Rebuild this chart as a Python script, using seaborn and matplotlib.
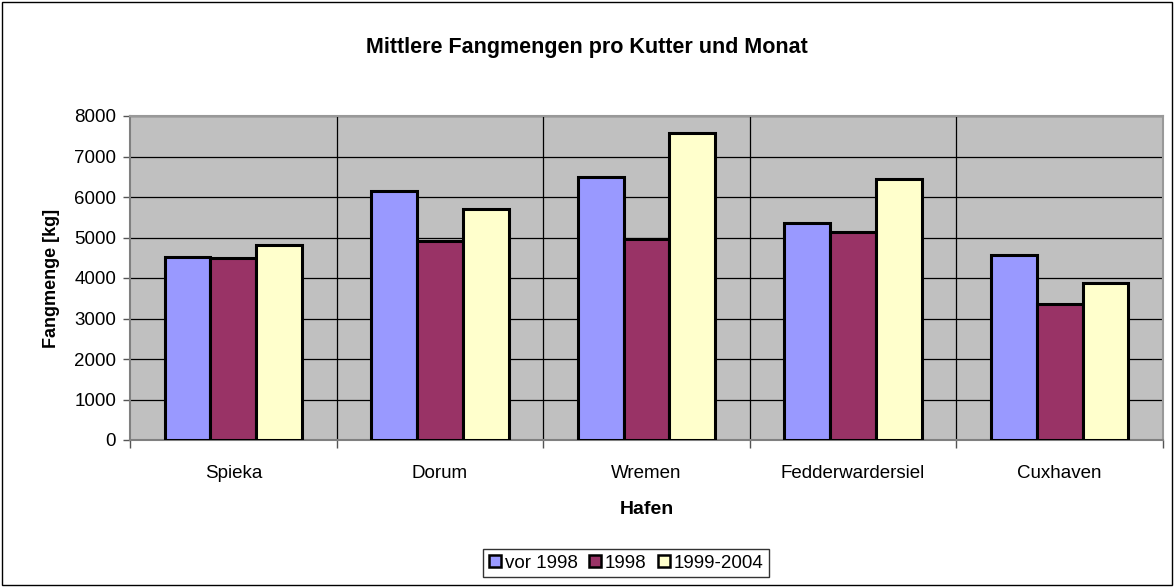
import numpy as np
import pandas as pd
import matplotlib.pyplot as plt
import seaborn as sns
from matplotlib.patches import Rectangle

# values
harbours = ['Spieka', 'Dorum', 'Wremen', 'Fedderwardersiel', 'Cuxhaven']
periods = ['vor 1998', '1998', '1999-2004']
vor_1998 = [4530, 6150, 6500, 5360, 4570]
in_1998 = [4500, 4915, 4955, 5145, 3350]
nach_1998 = [4810, 5715, 7570, 6435, 3885]
colors = ['#9999FF', '#993366', '#FFFFCC']

df = pd.DataFrame({
    'Hafen': harbours * 3,
    'Zeitraum': [p for p in periods for _ in harbours],
    'Fangmenge': vor_1998 + in_1998 + nach_1998,
})

sns.set_style('white')
plt.rcParams['font.family'] = ['Liberation Sans', 'DejaVu Sans']
plt.rcParams['text.color'] = 'black'
plt.rcParams['axes.labelcolor'] = 'black'
plt.rcParams['xtick.labelcolor'] = 'black'
plt.rcParams['ytick.labelcolor'] = 'black'

fig = plt.figure(figsize=(11.74, 5.87), dpi=100)
ax = fig.add_axes([130 / 1174, 1 - 440 / 587, 1033 / 1174, 324 / 587])
ax.set_facecolor('#C0C0C0')

sns.barplot(data=df, x='Hafen', y='Fangmenge', hue='Zeitraum', order=harbours,
            hue_order=periods, palette=colors, width=0.665, edgecolor='black',
            linewidth=2.2, saturation=1, ax=ax, zorder=3)

ax.set_xlim(-0.5, len(harbours) - 0.5)
ax.set_ylim(0, 8000)
ax.set_yticks(range(0, 8001, 1000))
ax.yaxis.grid(True, color='black', linewidth=0.9, zorder=0)
for xb in np.arange(0.5, len(harbours) - 0.5):
    ax.axvline(xb, color='black', linewidth=0.9, zorder=0)
ax.set_axisbelow(True)

ax.set_xticks(np.arange(-0.5, len(harbours)), minor=True)
ax.tick_params(axis='x', which='major', length=0, labelsize=13.5, pad=18, labelcolor='black')
ax.tick_params(axis='x', which='minor', length=6, width=1, color='#555555', direction='out')
ax.tick_params(axis='y', length=5, width=1, color='#555555', direction='out', labelsize=13.5,
               pad=5, labelcolor='black')
ax.xaxis.set_ticks_position('bottom')
ax.yaxis.set_ticks_position('left')

for side in ['left', 'bottom']:
    ax.spines[side].set_color('#808080')
    ax.spines[side].set_linewidth(1.5)
for side in ['top', 'right']:
    ax.spines[side].set_color('#999999')
    ax.spines[side].set_linewidth(1.5)

ax.set_xlabel('Hafen', fontsize=14, fontweight='bold', labelpad=14, color='black')
ax.set_ylabel('Fangmenge [kg]', fontsize=13, fontweight='bold', labelpad=10, color='black')
fig.text(0.5, 1 - 47 / 587, 'Mittlere Fangmengen pro Kutter und Monat',
         ha='center', va='center', fontsize=15.5, fontweight='bold', color='black')

ax.get_legend().remove()
handles = [Rectangle((0, 0), 1, 1, facecolor=c, edgecolor='black', linewidth=1.8)
           for c in colors]
leg = fig.legend(handles, periods, loc='center', bbox_to_anchor=(626 / 1174, 1 - 563 / 587),
                 ncol=3, frameon=True, fancybox=False, fontsize=13.5, handlelength=0.65,
                 handleheight=0.65, handletextpad=0.2, columnspacing=0.6,
                 borderpad=0.3, borderaxespad=0, labelcolor='black')
leg.get_frame().set_edgecolor('black')
leg.get_frame().set_linewidth(1)

fig.patches.append(Rectangle((0.002, 0.003), 0.996, 0.994, transform=fig.transFigure,
                             fill=False, edgecolor='black', linewidth=1))

fig.savefig('out.png', dpi=100)
